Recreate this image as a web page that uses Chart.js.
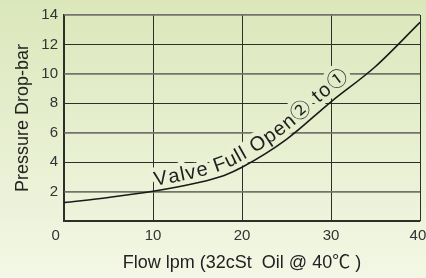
<!DOCTYPE html>
<html lang="en">
<head>
    <meta charset="UTF-8">
    <title>Pressure Drop</title>
    <script src="https://cdn.jsdelivr.net/npm/chart.js"></script>
    <style>
        html, body {
            margin: 0;
            padding: 0;
            background: #e7efd0;
        }
        #wrap {
            width: 426px;
            height: 278px;
        }
    </style>
</head>
<body>
    <div id="wrap">
        <canvas id="dropChart"></canvas>
    </div>

    <script>
        // flow (lpm) vs pressure drop (bar)
        const flow = [0, 5, 10, 15, 18, 20, 25, 30, 35, 40];
        const pressure = [1.25, 1.6, 2.02, 2.6, 3.1, 3.65, 5.55, 8.1, 10.5, 13.5];
        const xTicks = [0, 10, 20, 30, 40];
        const yTicks = [2, 4, 6, 8, 10, 12, 14];
        const curveText = "Valve Full Open\u2461 to\u2460";

        const FONT = "'Liberation Sans', Arial, 'Noto Sans CJK JP', sans-serif";
        const LABEL_FONT = "20px " + FONT;
        const LABEL_SPACING = 1.3;
        const BG_TOP = [0xdb, 0xe7, 0xbb];
        const BG_BOTTOM = [0xf3, 0xf7, 0xe5];

        function bgAt(t) {
            const c = BG_TOP.map((v, i) => Math.round(v + (BG_BOTTOM[i] - v) * t));
            return `rgb(${c[0]},${c[1]},${c[2]})`;
        }

        // sample the bezier the library drew for the dataset
        function curvePath(chart) {
            const pts = chart.getDatasetMeta(0).data;
            const out = [];
            for (let i = 0; i < pts.length - 1; i++) {
                const a = pts[i], b = pts[i + 1];
                const c1x = a.cp2x ?? a.x, c1y = a.cp2y ?? a.y;
                const c2x = b.cp1x ?? b.x, c2y = b.cp1y ?? b.y;
                for (let k = 0; k < 30; k++) {
                    const t = k / 30, u = 1 - t;
                    out.push({
                        x: u*u*u*a.x + 3*u*u*t*c1x + 3*u*t*t*c2x + t*t*t*b.x,
                        y: u*u*u*a.y + 3*u*u*t*c1y + 3*u*t*t*c2y + t*t*t*b.y
                    });
                }
            }
            const last = pts[pts.length - 1];
            out.push({ x: last.x, y: last.y });
            let s = 0;
            out[0].s = 0;
            for (let i = 1; i < out.length; i++) {
                s += Math.hypot(out[i].x - out[i-1].x, out[i].y - out[i-1].y);
                out[i].s = s;
            }
            return out;
        }

        function pointAt(path, s) {
            for (let i = 1; i < path.length; i++) {
                if (path[i].s >= s) {
                    const p = path[i-1], q = path[i];
                    const f = (s - p.s) / ((q.s - p.s) || 1);
                    return {
                        x: p.x + (q.x - p.x) * f,
                        y: p.y + (q.y - p.y) * f,
                        a: Math.atan2(q.y - p.y, q.x - p.x)
                    };
                }
            }
            return null;
        }

        // place each character of the label along the curve, a little above it
        function layoutText(chart) {
            const ctx = chart.ctx;
            const path = curvePath(chart);
            const startX = chart.scales.x.getPixelForValue(10.3);
            let s0 = 0;
            for (const p of path) { if (p.x >= startX) { s0 = p.s; break; } }
            ctx.save();
            ctx.font = LABEL_FONT;
            const chars = [];
            const total = ctx.measureText(curveText).width;
            let s = s0;
            for (const ch of curveText) {
                const w = ctx.measureText(ch).width;
                const prog = (s - s0) / total;
                const p = pointAt(path, s + w / 2);
                if (p) {
                    const off = 5 + 2 * prog;
                    chars.push({
                        ch: ch,
                        x: p.x + Math.sin(p.a) * off,
                        y: p.y - Math.cos(p.a) * off,
                        a: p.a
                    });
                }
                s += w + LABEL_SPACING;
            }
            ctx.restore();
            return chars;
        }

        function drawChars(ctx, chars, mode) {
            const h = ctx.canvas.height;
            ctx.save();
            ctx.font = LABEL_FONT;
            ctx.textAlign = "center";
            ctx.textBaseline = "alphabetic";
            ctx.lineWidth = 9;
            ctx.lineJoin = "round";
            ctx.fillStyle = "#1e1e1e";
            for (const c of chars) {
                ctx.save();
                ctx.translate(c.x, c.y);
                ctx.rotate(c.a);
                if (mode === "halo") {
                    ctx.strokeStyle = bgAt(Math.min(Math.max(c.y / h, 0), 1));
                    ctx.strokeText(c.ch, 0, 0);
                } else {
                    ctx.fillText(c.ch, 0, 0);
                }
                ctx.restore();
            }
            ctx.restore();
        }

        const background = {
            id: "background",
            beforeDraw(chart) {
                const ctx = chart.ctx;
                const g = ctx.createLinearGradient(0, 0, 0, chart.height);
                g.addColorStop(0, bgAt(0));
                g.addColorStop(1, bgAt(1));
                ctx.save();
                ctx.fillStyle = g;
                ctx.fillRect(0, 0, chart.width, chart.height);
                ctx.restore();
            }
        };

        const curveLabel = {
            id: "curveLabel",
            beforeDatasetsDraw(chart) {
                chart.$chars = layoutText(chart);
                drawChars(chart.ctx, chart.$chars, "halo"); // cuts the grid around the text
            },
            afterDatasetsDraw(chart) {
                drawChars(chart.ctx, chart.$chars || [], "fill");
            }
        };

        const ctx = document.getElementById("dropChart").getContext("2d");
        new Chart(ctx, {
            type: "line",
            data: {
                datasets: [{
                    data: flow.map((f, i) => ({ x: f, y: pressure[i] })),
                    borderColor: "#1a1a1a",
                    borderWidth: 1.6,
                    pointRadius: 0,
                    cubicInterpolationMode: "monotone",
                    fill: false
                }]
            },
            options: {
                responsive: true,
                maintainAspectRatio: false,
                animation: false,
                events: [],
                layout: { padding: { top: 14, right: 6, bottom: 0, left: 0 } },
                plugins: {
                    legend: { display: false },
                    tooltip: { enabled: false }
                },
                scales: {
                    x: {
                        type: "linear",
                        min: 0,
                        max: 40,
                        afterBuildTicks: (scale) => { scale.ticks = xTicks.map(v => ({ value: v })); },
                        afterFit: (scale) => {
                            scale.height = 57;
                            scale.paddingLeft = 0;
                            scale.paddingRight = 0;
                        },
                        grid: {
                            drawTicks: false,
                            color: "#2e2e2a",
                            lineWidth: 1
                        },
                        border: { color: "#2e2e2a", width: 1.2 },
                        ticks: {
                            padding: 6,
                            color: "#333",
                            font: { family: FONT, size: 15 },
                            maxRotation: 0,
                            callback: (v) => v === 0 ? "0    " : (v === 40 ? "40 " : String(v))
                        },
                        title: {
                            display: true,
                            text: "Flow lpm (32cSt  Oil @ 40\u2103 )",
                            color: "#222",
                            font: { family: FONT, size: 18 },
                            padding: { top: 4, bottom: 4 }
                        }
                    },
                    y: {
                        min: 0,
                        max: 14,
                        afterBuildTicks: (scale) => { scale.ticks = [0].concat(yTicks).map(v => ({ value: v })); },
                        afterFit: (scale) => { scale.width = 64; },
                        grid: {
                            drawTicks: false,
                            color: (c) => (c.tick && c.tick.value % 4 === 2) ? "#74746a" : "#2e2e2a",
                            lineWidth: (c) => (c.tick && c.tick.value % 4 === 2) ? 1.8 : 1
                        },
                        border: { color: "#2e2e2a", width: 1.2 },
                        ticks: {
                            padding: 6,
                            color: "#333",
                            font: { family: FONT, size: 15 },
                            callback: (v) => v === 0 ? "" : String(v)
                        },
                        title: {
                            display: true,
                            text: "Pressure Drop-bar",
                            color: "#222",
                            font: { family: FONT, size: 18 },
                            padding: { top: 12, bottom: 0 }
                        }
                    }
                }
            },
            plugins: [background, curveLabel]
        });
    </script>
</body>
</html>
